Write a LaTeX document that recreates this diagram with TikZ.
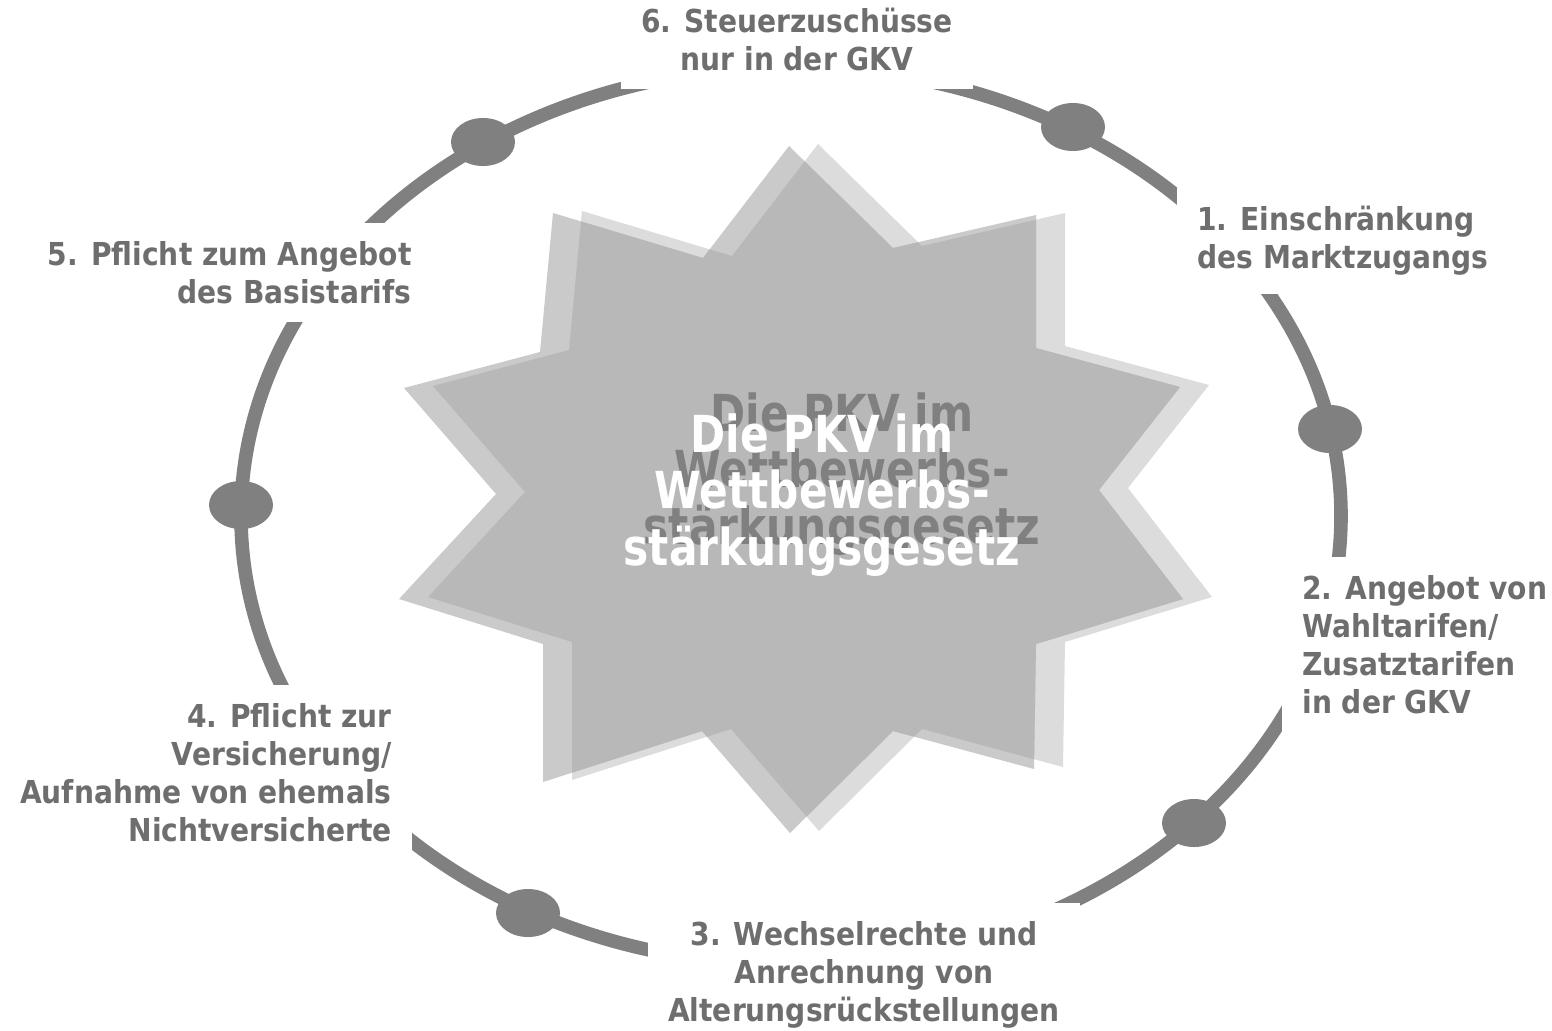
\documentclass[tikz,border=0pt]{standalone}
\usepackage{fontspec}
\newfontfamily\lblfont{DejaVu Sans Bold}[FakeStretch=0.89]
\newfontfamily\ttlfont{DejaVu Sans Bold}[FakeStretch=0.83]
\usetikzlibrary{shapes.geometric}
\definecolor{ringgray}{HTML}{808080}
\definecolor{labelgray}{HTML}{6E6E6E}
\definecolor{starA}{HTML}{CACACA}
\definecolor{starB}{HTML}{DCDCDC}
\definecolor{starAB}{HTML}{B8B8B8}
\definecolor{shadowgray}{HTML}{808080}
\def\starpath{(789,146) -- (893,248) -- (1036,215) -- (1036,348) -- (1180,387) -- (1099,490) -- (1183,599) -- (1036,644) -- (1034,769) -- (893,731) -- (790,833) -- (702,731) -- (543,782) -- (543,644) -- (399,599) -- (496,494) -- (404,388) -- (540,352) -- (553,213) -- (703,258) -- cycle}
\begin{document}
\begin{tikzpicture}[x=0.5pt,y=-0.5pt,
  lbl/.style={fill=white, text=labelgray, font=\lblfont\fontsize{15.8}{19}\selectfont, inner xsep=10pt, inner ysep=9pt},
  dotnode/.style={ellipse, fill=ringgray, minimum width=32pt, minimum height=24pt, inner sep=0pt},
  ringline/.style={draw=ringgray, line width=6.8pt},
  title/.style={font=\ttlfont\fontsize{25.5}{28.25}\selectfont, align=center, inner sep=0pt}]
\useasboundingbox (0,0) rectangle (1552,1030);
% star and its shadow
\fill[starB, shift={(29,-2)}] \starpath;
\fill[starA] \starpath;
\begin{scope}
  \clip \starpath;
  \fill[starAB, shift={(29,-2)}] \starpath;
\end{scope}
% centre title with shadow
\node[title, text=shadowgray] (titleshadow) at (842,474) {Die PKV im\\Wettbewerbs-\\stärkungsgesetz};
\node[title, text=white] (title) at (822,495) {Die PKV im\\Wettbewerbs-\\stärkungsgesetz};
% ring
\draw[ringline] (791,516) ellipse [x radius=275pt, y radius=224.5pt];
% dots
\node[dotnode] (dot1) at (1330,429) {};
\node[dotnode] (dot2) at (1194,823) {};
\node[dotnode] (dot3) at (528,913) {};
\node[dotnode] (dot4) at (241,505) {};
\node[dotnode] (dot5) at (483,142) {};
\node[dotnode] (dot6) at (1073,127) {};
% labels
\node[lbl, anchor=north west, align=left] (l1) at (1177,188) {1. Einschränkung\\des Marktzugangs};
\node[lbl, anchor=north west, align=left] (l2) at (1282,557) {2. Angebot von\\Wahltarifen/\\Zusatztarifen\\in der GKV};
\node[lbl, anchor=north, align=center] (l3) at (864,903) {3. Wechselrechte und\\Anrechnung von\\Alterungsrückstellungen};
\node[lbl, anchor=north east, align=right] (l4) at (412,685) {4. Pflicht zur\\Versicherung/\\Aufnahme von ehemals\\Nichtversicherte};
\node[lbl, anchor=north east, align=right] (l5) at (432,223) {5. Pflicht zum Angebot\\des Basistarifs};
\node[lbl, anchor=south, align=center] (l6) at (797,89) {6. Steuerzuschüsse\\nur in der GKV};
\end{tikzpicture}
\end{document}
